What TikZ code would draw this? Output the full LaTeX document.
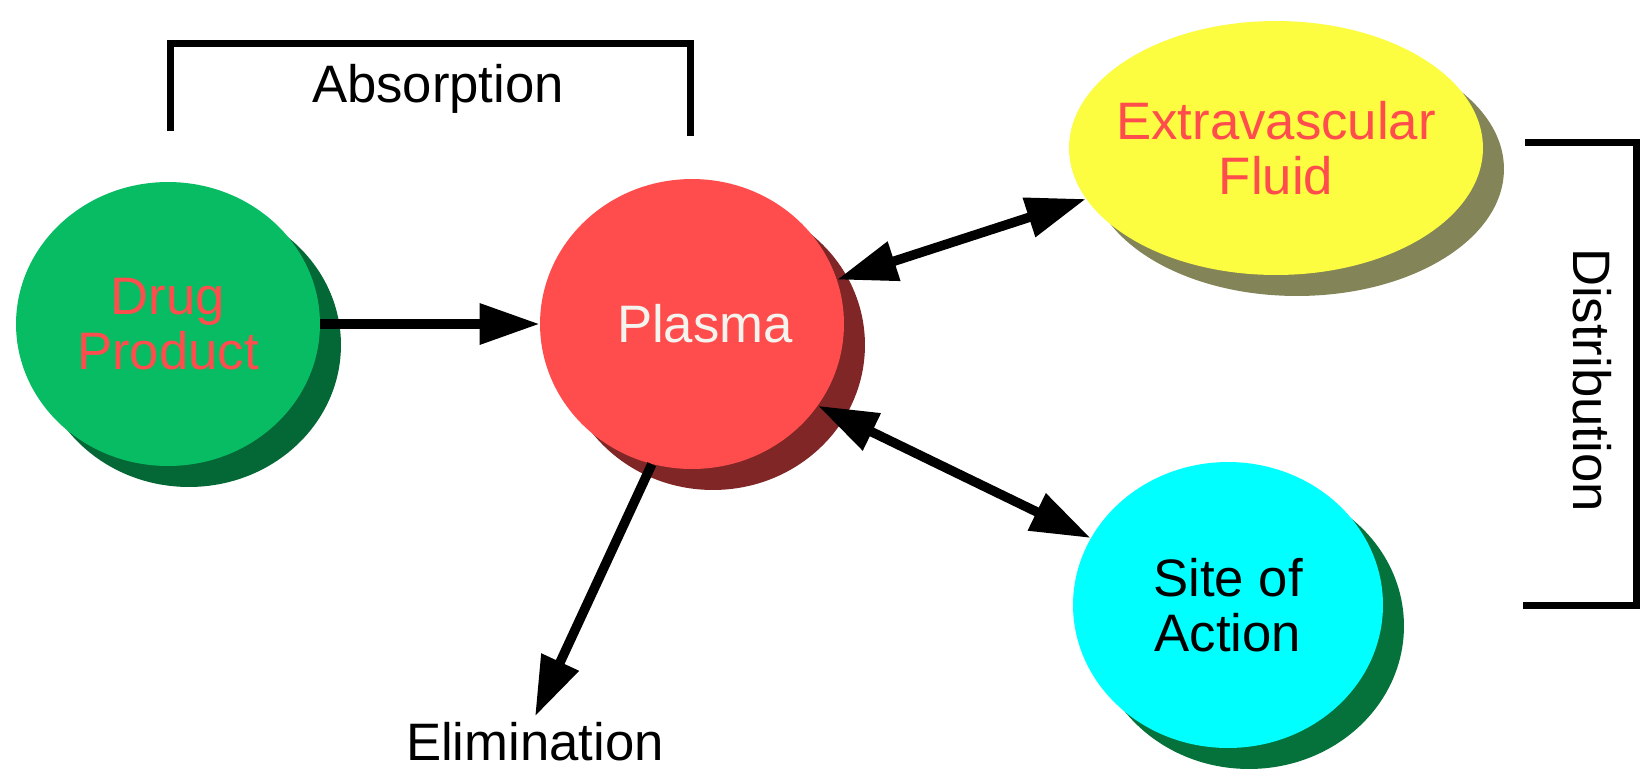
\documentclass[tikz,border=0pt]{standalone}
\usepackage{fontspec}
\setmainfont{Liberation Sans}
\usetikzlibrary{shapes.geometric,shadows,arrows.meta}
\definecolor{drugGreen}{RGB}{8,188,99}
\definecolor{plasmaRed}{RGB}{255,77,77}
\definecolor{fluidYellow}{RGB}{252,252,64}
\definecolor{siteCyan}{RGB}{0,255,255}
\definecolor{offWhite}{RGB}{245,243,238}
\definecolor{mixShadow}{RGB}{131,132,88}

\begin{document}
\begin{tikzpicture}[x=0.02cm, y=-0.02cm,
  every node/.style={font=\fontsize{30}{31}\selectfont},
  blob/.style={ellipse, inner sep=0pt},
  castshadow/.style={drop shadow={shadow xshift=0.42cm, shadow yshift=-0.42cm, opacity=1, fill=#1}},
  flow/.style={line width=0.19cm, -{Triangle[length=1.2cm, width=0.78cm]}},
  twoway/.style={line width=0.19cm, {Triangle[length=1.2cm, width=0.78cm]}-{Triangle[length=1.2cm, width=0.78cm]}},
  bracket/.style={line width=0.14cm}]
\useasboundingbox (0,0) rectangle (1641,772);

\node (drug)   [blob, fill=drugGreen, minimum width=6.08cm, minimum height=5.68cm, castshadow=drugGreen!55!black,
  label={[text=plasmaRed, align=center]center:{Drug\\Product}}] at (168,324) {};
\node (plasma) [blob, fill=plasmaRed, minimum width=6.08cm, minimum height=5.8cm, castshadow=plasmaRed!50!black,
  label={[text=offWhite, xshift=0.26cm]center:Plasma}] at (692,324) {};
\node (fluid)  [blob, fill=fluidYellow, minimum width=8.28cm, minimum height=5.08cm, castshadow=mixShadow,
  label={[text=plasmaRed, align=center]center:{Extravascular\\Fluid}}] at (1276,148) {};
\node (site)   [blob, fill=siteCyan, minimum width=6.2cm, minimum height=5.72cm, castshadow=drugGreen!60!black,
  label={[text=black, align=center]center:{Site of\\Action}}] at (1228,605) {};
\node (elim)   [anchor=base, inner sep=0.1cm] at (535,760) {Elimination};
\node (absorb) [anchor=base] at (438,102) {Absorption};
\node (distrib) [rotate=-90] at (1592,380) {Distribution};

\draw [flow] (drug.east) -- (plasma.west);
\draw [flow] (plasma.254) -- (elim.north);
\draw [twoway] (plasma.17) -- (fluid.195);
\draw [twoway] (plasma.-33) -- (site.154);

\draw [bracket] (170,131) -- (170,43) -- (690,43) -- (690,136);
\draw [bracket] (1525,142) -- (1636,142) -- (1636,605) -- (1523,605);

\end{tikzpicture}
\end{document}
